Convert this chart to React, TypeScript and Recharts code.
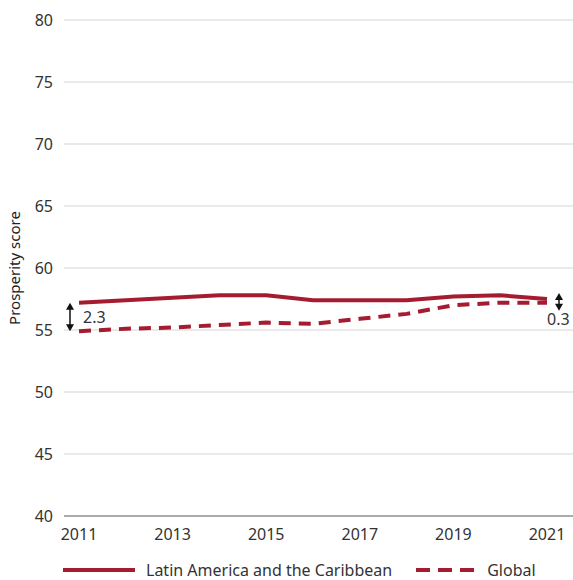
import { LineChart, Line, XAxis, YAxis, CartesianGrid, Legend, ReferenceLine } from "recharts"

const years = [2011, 2012, 2013, 2014, 2015, 2016, 2017, 2018, 2019, 2020, 2021]
const latam = [57.2, 57.4, 57.6, 57.8, 57.8, 57.4, 57.4, 57.4, 57.7, 57.8, 57.5]
const globalScore = [54.9, 55.1, 55.2, 55.4, 55.6, 55.5, 55.9, 56.3, 57.0, 57.2, 57.2]
const xTicks = [2011, 2013, 2015, 2017, 2019, 2021]
const yTicks = [40, 45, 50, 55, 60, 65, 70, 75, 80]

const data = years.map((year, i) => ({ year, latam: latam[i], global: globalScore[i] }))

const RED = "#a51c30"
const FONT = "'Noto Sans', 'Open Sans', sans-serif"
const TICK = { fontSize: 16, fill: "#333", fontFamily: FONT }

function Arrow({ x1, y1, y2, dx, label, lx, ly }: any) {
  const x = x1 + dx
  const top = Math.min(y1, y2)
  const bot = Math.max(y1, y2)
  return (
    <g>
      <line x1={x} x2={x} y1={top + 5} y2={bot - 5} stroke="#111" strokeWidth={1.5} />
      <path d={`M${x - 4},${top + 7} L${x},${top} L${x + 4},${top + 7} Z`} fill="#111" />
      <path d={`M${x - 4},${bot - 7} L${x},${bot} L${x + 4},${bot - 7} Z`} fill="#111" />
      <text x={x + lx} y={(top + bot) / 2 + ly} fontSize={16} fill="#333" fontFamily={FONT}>
        {label}
      </text>
    </g>
  )
}

function LegendContent() {
  return (
    <div style={{ display: "flex", alignItems: "center", paddingTop: 9, fontFamily: FONT, fontSize: 16, color: "#333" }}>
      <svg width={72} height={8} style={{ marginRight: 11 }}>
        <line x1={0} x2={72} y1={4} y2={4} stroke={RED} strokeWidth={4} />
      </svg>
      <span>Latin America and the Caribbean</span>
      <svg width={60} height={8} style={{ marginLeft: 24, marginRight: 11 }}>
        <line x1={0} x2={60} y1={4} y2={4} stroke={RED} strokeWidth={4} strokeDasharray="14 8" />
      </svg>
      <span>Global</span>
    </div>
  )
}

export default function App() {
  return (
    <div style={{ position: "absolute", left: 0, top: 0, background: "#fff" }}>
      <LineChart width={573} height={580} data={data} margin={{ top: 20, right: 0, left: 0, bottom: 0 }}>
        <CartesianGrid vertical={false} stroke="#d4d4d4" />
        <XAxis
          dataKey="year"
          type="number"
          domain={[2011, 2021]}
          ticks={xTicks}
          padding={{ left: 15, right: 26 }}
          axisLine={{ stroke: "#aaa", strokeWidth: 2 }}
          tickLine={false}
          tickMargin={7}
          height={34}
          tick={TICK}
        />
        <YAxis
          domain={[40, 80]}
          ticks={yTicks}
          width={64}
          axisLine={false}
          tickLine={false}
          tickMargin={5}
          tick={TICK}
          label={{ value: "Prosperity score", angle: -90, position: "insideLeft", offset: 15, style: { fontSize: 15, fill: "#222", fontFamily: FONT, textAnchor: "middle" } }}
        />
        <Legend verticalAlign="bottom" height={30} content={() => <LegendContent />} wrapperStyle={{ left: 63 }} />
        <Line dataKey="latam" stroke={RED} strokeWidth={4} dot={false} isAnimationActive={false} />
        <Line dataKey="global" stroke={RED} strokeWidth={4} strokeDasharray="12 8" dot={false} isAnimationActive={false} />
        <ReferenceLine
          segment={[{ x: 2011, y: 57.2 }, { x: 2011, y: 54.9 }]}
          shape={(p: any) => <Arrow x1={p.x1} y1={p.y1} y2={p.y2} dx={-9} label="2.3" lx={13} ly={6} />}
        />
        <ReferenceLine
          segment={[{ x: 2021, y: 57.5 }, { x: 2021, y: 57.2 }]}
          shape={(p: any) => <Arrow x1={p.x1} y1={p.y1 - 6} y2={p.y2 + 8} dx={12} label="0.3" lx={-12} ly={23} />}
        />
      </LineChart>
    </div>
  )
}
